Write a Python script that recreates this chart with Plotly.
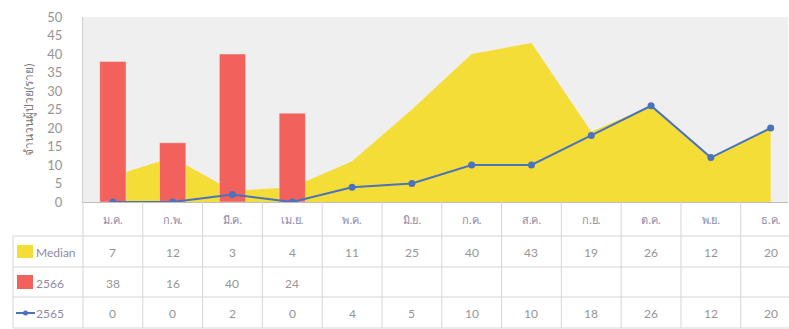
import plotly.graph_objects as go

months = ["ม.ค.", "ก.พ.", "มี.ค.", "เม.ย.", "พ.ค.", "มิ.ย.", "ก.ค.", "ส.ค.", "ก.ย.", "ต.ค.", "พ.ย.", "ธ.ค."]
median = [7, 12, 3, 4, 11, 25, 40, 43, 19, 26, 12, 20]
y2566 = [38, 16, 40, 24, None, None, None, None, None, None, None, None]
y2565 = [0, 0, 2, 0, 4, 5, 10, 10, 18, 26, 12, 20]
row_labels = ["Median", "2566", "2565"]
y_title = "จำนวนผู้ป่วย(ราย)"

YELLOW = "#f5dd38"
RED = "#f2615c"
BLUE = "#4a72bd"
TXT = "#959595"
MTXT = "#9088a4"
GRID = "#d6d6d6"
FONT = "Lato, DejaVu Sans, sans-serif"

W, H = 789, 329
ML, MR, MT, MB = 83, 1, 17, 127
XR = [-0.5, 11.29]
PW = W - ML - MR
PH = H - MT - MB


def px_x(x):  # pixel x -> paper
    return (x - ML) / PW


def py_y(y):  # pixel y -> paper
    return (H - MB - y) / PH


def cat_paper(v):  # category coordinate -> paper x
    return (v - XR[0]) / (XR[1] - XR[0])


fig = go.Figure()
fig.add_trace(go.Scatter(x=months, y=median, mode="none", fill="tozeroy",
                         fillcolor=YELLOW, name="Median", xaxis="x", yaxis="y"))
fig.add_trace(go.Bar(x=months, y=y2566, marker_color=RED, width=0.44,
                     name="2566", xaxis="x2", yaxis="y2"))
fig.add_trace(go.Scatter(x=months, y=y2565, mode="lines+markers",
                         line=dict(color=BLUE, width=2),
                         marker=dict(symbol="circle", size=7, color=BLUE),
                         name="2565", xaxis="x2", yaxis="y2"))

shapes = []
annotations = []

# table grid
row_lines = [236, 267, 297, 328]
for yl in row_lines:
    shapes.append(dict(type="line", xref="paper", yref="paper",
                       x0=px_x(13), x1=1.02, y0=py_y(yl), y1=py_y(yl),
                       line=dict(color=GRID, width=1)))
for i in range(len(months) + 1):
    xp = cat_paper(i - 0.5)
    if xp > 1.0:
        continue
    shapes.append(dict(type="line", xref="paper", yref="paper",
                       x0=xp, x1=xp, y0=0, y1=py_y(328),
                       line=dict(color=GRID, width=1)))
shapes.append(dict(type="line", xref="paper", yref="paper",
                   x0=px_x(13), x1=px_x(13), y0=py_y(236), y1=py_y(328),
                   line=dict(color=GRID, width=1)))

row_centers = [251.5, 282, 312.5]
rows = [median, y2566, y2565]
for vals, yc in zip(rows, row_centers):
    for m, v in zip(months, vals):
        if v is None:
            continue
        annotations.append(dict(x=m, y=py_y(yc), xref="x", yref="paper",
                                text=str(v), showarrow=False, yanchor="middle",
                                yshift=-1,
                                font=dict(size=12, color=TXT, family=FONT)))

# legend keys in table
shapes.append(dict(type="rect", xref="paper", yref="paper",
                   x0=px_x(17), x1=px_x(33), y0=py_y(258), y1=py_y(245),
                   fillcolor=YELLOW, line=dict(width=0)))
shapes.append(dict(type="rect", xref="paper", yref="paper",
                   x0=px_x(17), x1=px_x(33), y0=py_y(289), y1=py_y(275),
                   fillcolor=RED, line=dict(width=0)))
shapes.append(dict(type="line", xref="paper", yref="paper",
                   x0=px_x(16), x1=px_x(35), y0=py_y(313), y1=py_y(313),
                   line=dict(color=BLUE, width=2)))
shapes.append(dict(type="circle", xref="paper", yref="paper",
                   x0=px_x(23), x1=px_x(28), y0=py_y(310.5), y1=py_y(315.5),
                   fillcolor=BLUE, line=dict(width=0)))
for lbl, yc in zip(row_labels, row_centers):
    annotations.append(dict(x=px_x(34), y=py_y(yc), xref="paper", yref="paper",
                            text=lbl, showarrow=False, xanchor="left",
                            yanchor="middle", yshift=-1,
                            font=dict(size=12, color=MTXT, family=FONT)))

annotations.append(dict(x=px_x(19), y=py_y(110), xref="paper", yref="paper",
                        text=y_title, textangle=-90, showarrow=False,
                        font=dict(size=12, color="#7a7a7a", family=FONT)))

fig.update_layout(
    width=W, height=H,
    margin=dict(l=ML, r=MR, t=MT, b=MB),
    paper_bgcolor="white", plot_bgcolor="#efefef",
    showlegend=False, bargap=0.5,
    font=dict(family=FONT),
    xaxis=dict(type="category", categoryorder="array", categoryarray=months,
               range=XR, showgrid=False, zeroline=False,
               showline=True, linecolor="#bdbdbd", ticks="",
               tickfont=dict(size=11, color=MTXT, family=FONT),
               ticklabelstandoff=8),
    yaxis=dict(range=[0, 50], dtick=5, showgrid=False, zeroline=False,
               showline=True, linecolor="#d0d0d0", ticks="",
               tickfont=dict(size=13, color=TXT, family=FONT),
               ticklabelstandoff=17),
    xaxis2=dict(type="category", categoryorder="array", categoryarray=months,
                overlaying="x", matches="x", visible=False),
    yaxis2=dict(overlaying="y", matches="y", visible=False),
    shapes=shapes, annotations=annotations,
)

fig.write_html("out.html")
